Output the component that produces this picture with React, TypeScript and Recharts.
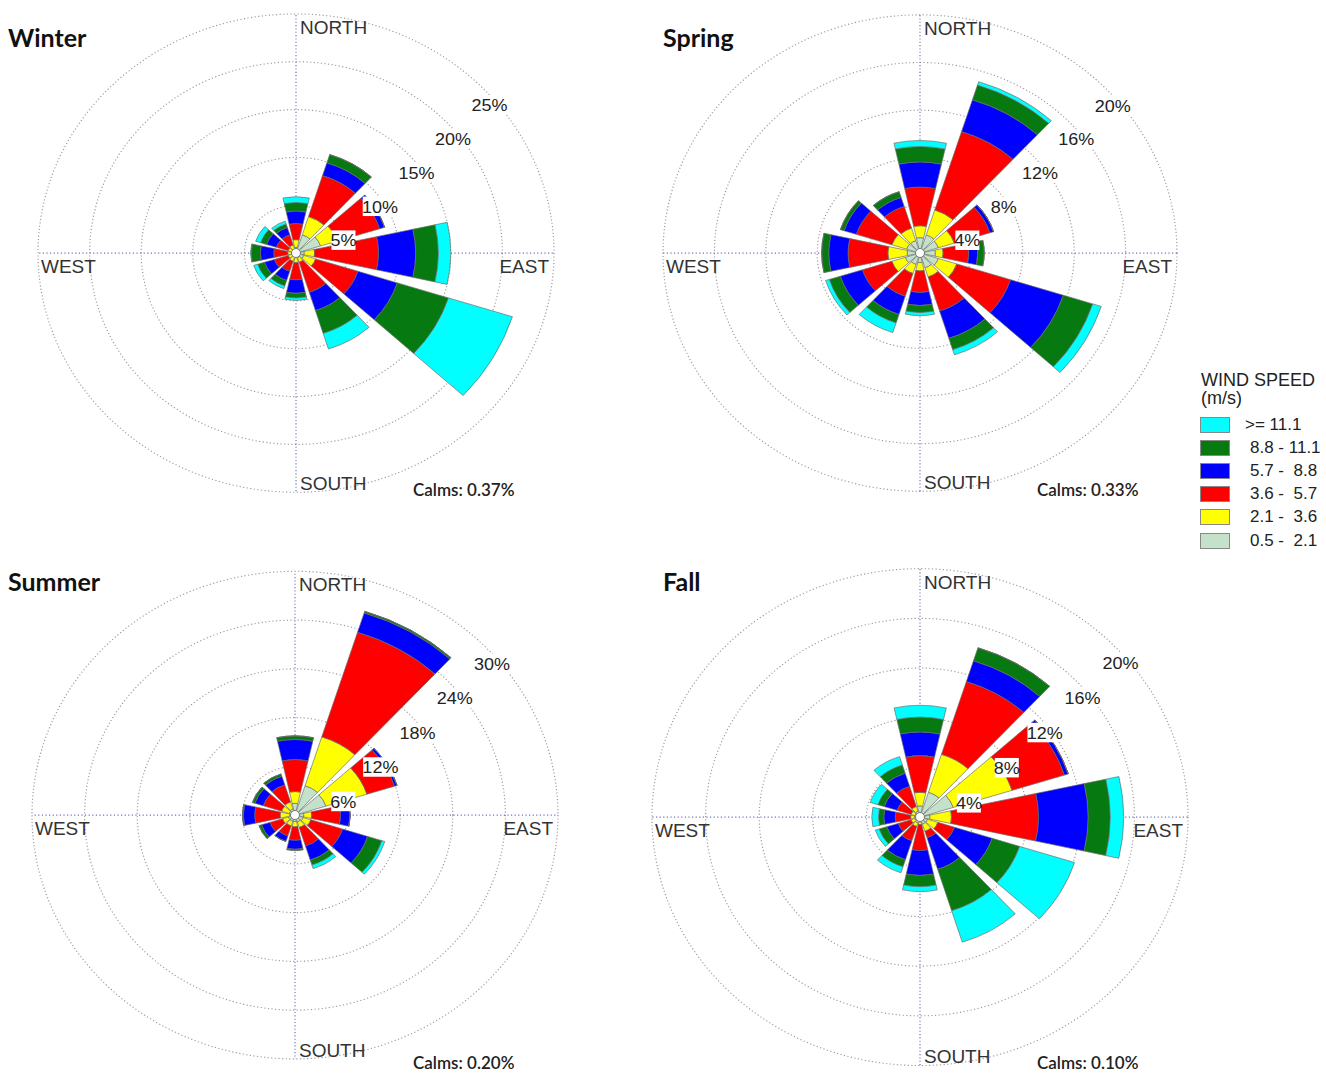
import React from 'react';
import { RadialBarChart, RadialBar, PolarGrid, PolarAngleAxis, PolarRadiusAxis } from 'recharts';

// 12 direction sectors, degrees clockwise from north
const DIRECTIONS = [0, 30, 60, 90, 120, 150, 180, 210, 240, 270, 300, 330];
const COMPASS: Record<number, string> = { 0: 'NORTH', 90: 'EAST', 180: 'SOUTH', 270: 'WEST' };

// speed bins, slowest first (stack order from the centre outwards)
const SPEED_BINS = ['0.5 -  2.1', '2.1 -  3.6', '3.6 -  5.7', '5.7 -  8.8', '8.8 - 11.1', '>= 11.1'];
const BIN_COLORS = ['#c4e1c9', '#ffff00', '#ff0000', '#0000ff', '#067a10', '#00ffff'];

// frequency (%) — one row per speed bin, one column per direction
const winterFreq = [
  [0.6, 2.0, 2.5, 0.8, 0.8, 0.5, 0.5, 0.4, 0.4, 0.4, 0.4, 0.4],
  [0.8, 2.0, 1.7, 1.0, 1.2, 0.5, 0.5, 0.5, 0.4, 0.4, 0.4, 0.5],
  [1.7, 4.5, 4.3, 6.2, 4.3, 3.3, 1.8, 1.1, 1.4, 1.35, 1.2, 1.1],
  [1.3, 1.4, 0.5, 3.6, 4.0, 2.0, 1.4, 1.0, 1.0, 1.3, 1.0, 0.8],
  [0.9, 0.9, 0.0, 2.2, 5.2, 2.5, 0.5, 0.6, 0.7, 0.9, 0.6, 0.4],
  [0.6, 0.0, 0.0, 1.2, 6.5, 1.7, 0.25, 0.3, 0.4, 0.05, 0.5, 0.3],
];
const springFreq = [
  [1.3, 1.6, 1.5, 1.2, 1.5, 1.3, 0.8, 1.0, 1.2, 1.0, 1.1, 1.1],
  [1.0, 2.2, 1.3, 0.6, 1.5, 0.8, 0.7, 0.8, 1.1, 1.5, 1.2, 1.1],
  [3.25, 6.9, 2.9, 2.0, 4.4, 3.0, 1.8, 2.0, 2.4, 3.1, 2.9, 1.9],
  [2.1, 2.8, 0.3, 0.7, 4.3, 2.4, 1.1, 1.6, 1.8, 1.5, 1.0, 0.8],
  [1.3, 1.3, 0.0, 0.5, 2.4, 1.0, 0.6, 0.75, 0.9, 0.55, 0.3, 0.5],
  [0.5, 0.3, 0.0, 0.0, 0.7, 0.45, 0.25, 0.85, 0.3, 0.0, 0.0, 0.0],
];
const summerFreq = [
  [1.45, 3.8, 3.7, 1.0, 1.0, 0.9, 0.8, 0.8, 0.8, 0.6, 0.7, 0.8],
  [1.45, 6.3, 4.9, 0.9, 0.9, 0.7, 0.65, 0.6, 0.7, 1.1, 0.9, 0.9],
  [3.95, 13.5, 3.3, 3.3, 3.8, 2.4, 1.65, 1.3, 1.5, 2.9, 2.2, 2.2],
  [2.45, 2.5, 0.3, 1.1, 3.0, 1.8, 1.1, 0.7, 1.0, 1.3, 1.0, 1.1],
  [0.45, 0.2, 0.0, 0.0, 1.7, 0.65, 0.15, 0.0, 0.3, 0.1, 0.3, 0.3],
  [0.0, 0.0, 0.0, 0.0, 0.35, 0.45, 0.0, 0.0, 0.0, 0.0, 0.0, 0.0],
];
const fallFreq = [
  [0.9, 2.1, 2.6, 0.75, 0.6, 0.6, 0.4, 0.5, 0.4, 0.4, 0.4, 0.5],
  [1.1, 3.2, 4.6, 1.6, 0.8, 0.6, 0.2, 0.3, 0.3, 0.3, 0.3, 0.4],
  [2.95, 6.15, 4.1, 6.5, 1.3, 0.55, 2.1, 1.2, 1.0, 1.15, 1.1, 1.7],
  [1.9, 1.75, 0.3, 3.7, 2.95, 2.65, 2.0, 1.6, 0.9, 0.85, 1.0, 1.1],
  [1.2, 1.1, 0.0, 1.65, 2.15, 3.5, 0.9, 0.6, 0.6, 0.4, 0.5, 0.7],
  [0.95, 0.0, 0.0, 1.0, 4.3, 2.65, 0.4, 0.5, 0.3, 0.5, 0.6, 0.7],
];

const winterTicks = [5, 10, 15, 20, 25];
const springTicks = [4, 8, 12, 16, 20];
const summerTicks = [6, 12, 18, 24, 30];
const fallTicks = [4, 8, 12, 16, 20];

const SEASONS = ['Winter', 'Spring', 'Summer', 'Fall'];
const CALMS = ['0.37%', '0.33%', '0.20%', '0.10%'];

const SQUISH = 0.927;
const CHART_W = 640;
const CHART_H = 600;
const CX = 320;
const CY = 300;
const LABEL_FONT = '"Liberation Sans", Arial, sans-serif';

// compass labels sit just inside the outer ring, beside the N/E/S/W spokes
const makeDirTick = (radius: number) => (props: any) => {
  const name = COMPASS[props.payload.value];
  if (!name) return <g />;
  const a = (props.payload.value * Math.PI) / 180;
  const px = CX + radius * Math.sin(a);
  const py = CY - radius * Math.cos(a);
  let tx = px + 4;
  let ty = py + 15;
  let anchor = 'start';
  if (name === 'SOUTH') {
    ty = py - 9;
  } else if (name === 'EAST') {
    tx = px - 5; anchor = 'end';
  } else if (name === 'WEST') {
    tx = px + 3;
  }
  return (
    <text x={tx} y={ty} textAnchor={anchor} dominantBaseline="central" fontSize={19} fill="#333" fontFamily={LABEL_FONT}>
      {name}
    </text>
  );
};

const renderRingTick = (props: any) => {
  const { x, y, payload } = props;
  const label = `${payload.value}%`;
  const w = label.length * 10.5 + 3;
  return (
    <g>
      <rect x={x + 11 - w / 2} y={y + 12} width={w} height={21} fill="#fff" />
      <text x={x + 11} y={y + 23} textAnchor="middle" dominantBaseline="central" fontSize={18} fill="#222" fontFamily={LABEL_FONT}>
        {label}
      </text>
    </g>
  );
};

type RoseProps = { freq: number[][]; ticks: number[]; radius: number; centerX: number; centerY: number };

const Rose = ({ freq, ticks, radius, centerX, centerY }: RoseProps) => {
  const data = DIRECTIONS.map((dir, i) => {
    const row: Record<string, number> = { dir };
    freq.forEach((bin, k) => { row['b' + k] = bin[i]; });
    return row;
  });
  return (
    <>
      <div style={{ position: 'absolute', left: centerX - CX, top: centerY - CY * SQUISH, transform: `scaleY(${SQUISH})`, transformOrigin: '0 0' }}>
        <RadialBarChart width={CHART_W} height={CHART_H} data={data} cx={CX} cy={CY} innerRadius={0} outerRadius={radius}
          startAngle={75} endAngle={-285} layout="centric" barCategoryGap="8%">
          <PolarGrid gridType="circle" radialLines={false} stroke="#9a9a9a" strokeWidth={1.2} strokeDasharray="1.2 2.4" />
          <PolarGrid gridType="circle" polarAngles={[0, 90, 180, 270]} polarRadius={[]} stroke="#6f72c0" strokeWidth={1.2} strokeDasharray="1.2 2.4" />
          {SPEED_BINS.map((b, k) => (
            <RadialBar key={b} dataKey={'b' + k} stackId="speed" fill={BIN_COLORS[k]} stroke="#6a6a6a" strokeWidth={0.7} isAnimationActive={false} />
          ))}
          <PolarAngleAxis type="category" dataKey="dir" tick={makeDirTick(radius)} tickLine={false} axisLine={false} />
          <PolarRadiusAxis type="number" domain={[0, ticks[ticks.length - 1]]} ticks={ticks} angle={45} axisLine={false} tickLine={false} tick={renderRingTick} />
        </RadialBarChart>
      </div>
      <div style={{ position: 'absolute', left: centerX - 5, top: centerY - 5, width: 8, height: 8, borderRadius: '50%', background: '#fff', border: '1px solid #777' }} />
    </>
  );
};

const ROSES = [
  { freq: winterFreq, ticks: winterTicks, radius: 258, centerX: 295.7, centerY: 253.3 },
  { freq: springFreq, ticks: springTicks, radius: 257, centerX: 920, centerY: 252.7 },
  { freq: summerFreq, ticks: summerTicks, radius: 263, centerX: 295, centerY: 815 },
  { freq: fallFreq, ticks: fallTicks, radius: 268, centerX: 920, centerY: 816.7 },
];
const TITLE_POS = [[8, 22], [663, 22], [8, 566], [663, 566]];
const CALMS_POS = [[413, 479], [1037, 479], [413, 1052], [1037, 1052]];

export default function App() {
  return (
    <div style={{ position: 'absolute', left: 0, top: 0, width: 1326, height: 1073, background: '#fff', overflow: 'hidden' }}>
      {ROSES.map((r, i) => <Rose key={SEASONS[i]} {...r} />)}
      {SEASONS.map((s, i) => (
        <div key={s} style={{ position: 'absolute', left: TITLE_POS[i][0], top: TITLE_POS[i][1], fontFamily: 'Lato, sans-serif', fontWeight: 700, fontSize: 25, lineHeight: '30px', color: '#111' }}>{s}</div>
      ))}
      {CALMS.map((c, i) => (
        <div key={i} style={{ position: 'absolute', left: CALMS_POS[i][0], top: CALMS_POS[i][1], fontFamily: 'Lato, sans-serif', fontWeight: 600, fontSize: 17, lineHeight: '22px', color: '#222' }}>Calms: {c}</div>
      ))}
      <div style={{ position: 'absolute', left: 1201, top: 371, fontFamily: LABEL_FONT, fontSize: 18, lineHeight: '18px', color: '#222', whiteSpace: 'nowrap' }}>WIND SPEED</div>
      <div style={{ position: 'absolute', left: 1201, top: 389, fontFamily: LABEL_FONT, fontSize: 18, lineHeight: '18px', color: '#222', whiteSpace: 'nowrap' }}>(m/s)</div>
      {SPEED_BINS.slice().reverse().map((b, j) => {
        const k = SPEED_BINS.length - 1 - j;
        return (
          <div key={b} style={{ position: 'absolute', left: 1200, top: 417 + j * 23.1, height: 16, display: 'flex', alignItems: 'center' }}>
            <div style={{ width: 30, height: 16, background: BIN_COLORS[k], border: '1px solid #888', boxSizing: 'border-box' }} />
            <span style={{ marginLeft: k === 5 ? 15 : 20, fontFamily: LABEL_FONT, fontSize: 17, color: '#222', whiteSpace: 'pre' }}>{b}</span>
          </div>
        );
      })}
    </div>
  );
}
